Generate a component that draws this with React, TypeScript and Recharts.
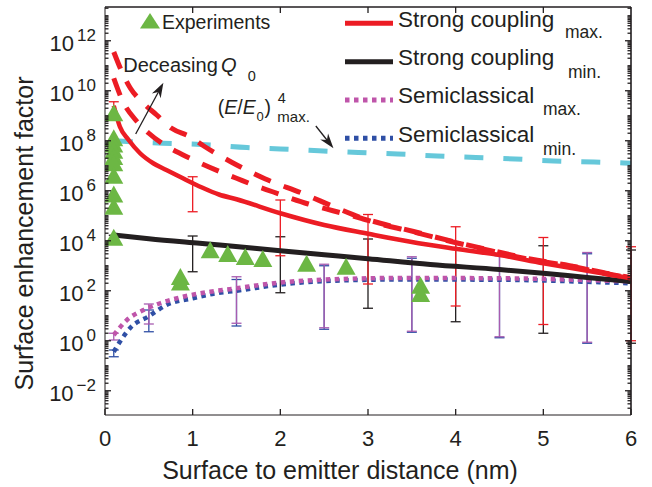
import { ComposedChart, Line, Scatter, XAxis, YAxis, ErrorBar, ReferenceLine, Legend } from 'recharts';

// values are log10 of the enhancement factor
const strongMaxX = [0.1, 0.17, 0.27, 0.4, 0.55, 0.7, 0.9, 1.1, 1.3, 1.5, 2, 2.5, 3, 3.5, 4, 4.5, 5, 5.5, 6];
const strongMaxLog = [9.4, 8.56, 8.03, 7.5, 7.1, 6.83, 6.48, 6.14, 5.85, 5.66, 5.1, 4.63, 4.28, 3.95, 3.68, 3.43, 3.1, 2.8, 2.5];

const dashHighX = [0.1, 0.2, 0.29, 0.42, 0.59, 0.76, 0.97, 1.14, 1.45, 1.83, 2.25, 2.65, 2.9, 3.14, 3.52, 3.97, 4.4, 4.85, 5.3, 5.8, 6];
const dashHighLog = [11.55, 10.7, 10.1, 9.56, 9.03, 8.5, 8.16, 7.76, 7.13, 6.47, 5.9, 5.3, 4.95, 4.7, 4.37, 3.97, 3.62, 3.27, 3.0, 2.65, 2.53];

const dashLowX = [0.1, 0.2, 0.35, 0.5, 0.68, 0.88, 1.09, 1.3, 1.5, 1.7, 1.92, 2.12, 2.32, 2.6, 2.9, 3.14, 3.52, 3.97, 4.4, 4.85, 5.3, 5.8, 6];
const dashLowLog = [10.5, 9.6, 8.83, 8.3, 7.83, 7.45, 7.1, 6.78, 6.5, 6.22, 5.95, 5.7, 5.47, 5.2, 4.92, 4.67, 4.35, 3.95, 3.6, 3.25, 2.99, 2.63, 2.52];

const fieldX = [0.1, 0.3, 0.66, 1.1, 1.62, 2.0, 2.44, 2.89, 3.34, 3.79, 4.23, 4.68, 5.12, 5.58, 6];
const fieldLog = [8.0, 7.96, 7.9, 7.85, 7.73, 7.67, 7.6, 7.53, 7.47, 7.39, 7.33, 7.27, 7.19, 7.15, 7.1];

const strongMinX = [0.1, 0.5, 1.08, 1.31, 2, 2.5, 3, 3.71, 4.5, 5, 5.5, 6];
const strongMinLog = [4.23, 4.08, 3.9, 3.83, 3.6, 3.44, 3.28, 3.05, 2.85, 2.7, 2.53, 2.37];

const semiMaxX = [0.1, 0.25, 0.44, 0.63, 0.89, 1.2, 1.46, 2, 2.6, 3.37, 4.5, 5.65, 6];
const semiMaxLog = [0.23, 0.83, 1.23, 1.5, 1.76, 1.96, 2.08, 2.33, 2.46, 2.51, 2.5, 2.41, 2.37];

const semiMinX = [0.1, 0.17, 0.3, 0.49, 0.7, 1.0, 1.27, 1.5, 2, 2.6, 3.37, 4.5, 5.65, 6];
const semiMinLog = [-0.44, -0.04, 0.56, 0.96, 1.43, 1.7, 1.9, 2.0, 2.25, 2.4, 2.45, 2.44, 2.34, 2.3];

const expX = [0.1, 0.1, 0.1, 0.1, 0.1, 0.1, 0.1, 0.1, 0.1, 0.1, 0.86, 0.86, 1.2, 1.4, 1.6, 1.8, 2.3, 2.75, 3.6, 3.6];
const expLog = [9.1, 8.1, 7.85, 7.6, 7.35, 7.1, 6.6, 5.85, 5.36, 4.12, 2.55, 2.33, 3.62, 3.47, 3.35, 3.27, 3.08, 2.96, 2.2, 1.87];

// error bars: x, log of bottom, log of top
const redBarX = [0.1, 1, 2, 3, 4, 5, 6];
const redBarLo = [8.95, 5.16, 3.4, 2.27, 1.39, 0.65, 0.0];
const redBarHi = [9.56, 6.56, 5.63, 5.05, 4.56, 4.13, 3.76];

const blackBarX = [0.1, 1, 2, 3, 4, 5, 6];
const blackBarLo = [4.03, 2.76, 1.92, 1.3, 0.76, 0.3, -0.1];
const blackBarHi = [4.22, 4.19, 4.16, 4.07, 3.95, 3.8, 3.63];

const pinkBarX = [0.1, 0.5, 1.5, 2.5, 3.5, 4.5, 5.5];
const pinkBarLo = [0.03, 0.67, 0.7, 0.52, 0.38, 0.16, -0.06];
const pinkBarHi = [0.3, 1.47, 2.56, 3.06, 3.36, 3.45, 3.53];

const blueBarX = [0.1, 0.5, 1.5, 2.5, 3.5, 4.5, 5.5];
const blueBarLo = [-0.64, 0.36, 0.59, 0.46, 0.34, 0.12, -0.1];
const blueBarHi = [-0.37, 1.23, 2.45, 3.0, 3.3, 3.4, 3.48];

const xTicks = [0, 1, 2, 3, 4, 5, 6];
const yTicks = [1e-2, 1, 1e2, 1e4, 1e6, 1e8, 1e10, 1e12];
const Y_DOMAIN = [10 ** -2.97, 10 ** 13.35];

const yAllTicks: number[] = [...yTicks];
for (let k = -3; k <= 13; k++) {
  for (let m = 1; m <= 9; m++) {
    if (m === 1 && k % 2 === 0) continue;
    const v = m * 10 ** k;
    if (v > Y_DOMAIN[0] && v < Y_DOMAIN[1]) yAllTicks.push(v);
  }
}
yAllTicks.sort((a, b) => a - b);

const legendNames = ['Strong coupling', 'Strong coupling', 'Semiclassical', 'Semiclassical'];
const legendSubs = ['max.', 'min.', 'max.', 'min.'];

const FONT = '"Liberation Sans", Arial, Helvetica, sans-serif';
const INK = '#231f20';
const RED = '#ec1c24';
const GREEN = '#6cb744';
const CYAN = '#66c8da';
const PINK = '#bf55aa';
const BLUE = '#2f4fa5';

const toPoints = (xs: number[], logs: number[]) => xs.map((x, i) => ({ x, y: 10 ** logs[i] }));
const toBars = (xs: number[], lo: number[], hi: number[]) =>
  xs.map((x, i) => {
    const top = 10 ** hi[i];
    const bottom = 10 ** lo[i];
    return { x, y: top, err: [top - bottom, 0] };
  });

const isMajor = (v: number) => {
  const e = Math.log10(v);
  return Math.abs(e - Math.round(e)) < 1e-6 && Math.round(e) % 2 === 0;
};

// tick marks point into the plot, MATLAB style
const BottomTick = ({ x, y, payload }: any) => (
  <g>
    <path d={`M${x},${y}V${y - 6}`} stroke={INK} strokeWidth={1.3} fill="none" />
    <text x={x} y={y + 31} textAnchor="middle" fontSize={22} fill={INK} fontFamily={FONT}>
      {payload.value}
    </text>
  </g>
);

const TopTick = ({ x, y }: any) => <path d={`M${x},${y}V${y + 6}`} stroke={INK} strokeWidth={1.3} fill="none" />;

const LeftTick = ({ x, y, payload }: any) => {
  const major = isMajor(payload.value);
  const exp = Math.round(Math.log10(payload.value));
  return (
    <g>
      <path d={`M${x},${y}H${x + (major ? 6 : 3.5)}`} stroke={INK} strokeWidth={1.3} fill="none" />
      {major && (
        <text x={x - 9} y={y + 10} textAnchor="end" fontSize={22} fill={INK} fontFamily={FONT}>
          10
          <tspan dx={3} dy={-10} fontSize={17}>
            {exp < 0 ? '\u2212' + Math.abs(exp) : exp}
          </tspan>
        </text>
      )}
    </g>
  );
};

const RightTick = ({ x, y, payload }: any) => (
  <path d={`M${x},${y}H${x - (isMajor(payload.value) ? 6 : 3.5)}`} stroke={INK} strokeWidth={1.3} fill="none" />
);

const XTitle = () => (
  <text x={340} y={479} textAnchor="middle" fontSize={25} fill={INK} fontFamily={FONT}>
    Surface to emitter distance (nm)
  </text>
);

const YTitle = () => (
  <text transform="translate(33,233.5) rotate(-90)" textAnchor="middle" fontSize={25} fill={INK} fontFamily={FONT}>
    Surface enhancement factor
  </text>
);

const Triangle = ({ cx, cy }: any) => (
  <polygon points={`${cx},${cy - 9} ${cx - 9.5},${cy + 8} ${cx + 9.5},${cy + 8}`} fill={GREEN} />
);

const Hidden = () => <g />;

const Arrow = ({ x1, y1, x2, y2 }: any) => {
  const a = Math.atan2(y2 - y1, x2 - x1);
  const len = 15;
  const half = 5;
  const bx = x2 - len * Math.cos(a);
  const by = y2 - len * Math.sin(a);
  const nx = x2 - len * 0.7 * Math.cos(a);
  const ny = y2 - len * 0.7 * Math.sin(a);
  const px = -Math.sin(a) * half;
  const py = Math.cos(a) * half;
  return (
    <g>
      <line x1={x1} y1={y1} x2={nx} y2={ny} stroke={INK} strokeWidth={1.3} />
      <polygon points={`${x2},${y2} ${bx + px},${by + py} ${nx},${ny} ${bx - px},${by - py}`} fill={INK} />
    </g>
  );
};

const Edge = ({ x1, y1, x2, y2 }: any) => (
  <line x1={x1} y1={y1} x2={x2} y2={y2} stroke={INK} strokeWidth={1.2} />
);

const legendLineY = [23.3, 61.7, 100, 138.3];
const legendTextY = [26.7, 65, 103.3, 141.7];
const legendSubX = [565, 568, 543, 543];
const legendSubY = [38.3, 78.3, 115, 155];
const legendStroke = [RED, INK, PINK, BLUE];
const legendDash = [undefined, undefined, '4.5 4.5', '4.5 4.5'];

const LegendBox = () => (
  <svg width={652} height={170} style={{ display: 'block' }} fontFamily={FONT} fill={INK}>
    <polygon points="140,28.5 150,13 160,28.5" fill={GREEN} />
    <text x={162} y={29} fontSize={19.5}>Experiments</text>
    {legendNames.map((name, i) => (
      <g key={i}>
        <line x1={345} x2={393} y1={legendLineY[i]} y2={legendLineY[i]} stroke={legendStroke[i]} strokeWidth={5} strokeDasharray={legendDash[i]} />
        <text x={398} y={legendTextY[i]} fontSize={22.5}>{name}</text>
        <text x={legendSubX[i]} y={legendSubY[i]} fontSize={17.5}>{legendSubs[i]}</text>
      </g>
    ))}
    <text x={123.3} y={71.7} fontSize={20}>Deceasing</text>
    <text x={221} y={71.7} fontSize={20} fontStyle="italic">Q</text>
    <text x={247.7} y={80.7} fontSize={14.5}>0</text>
    <text x={217.7} y={114} fontSize={19.5}>
      (<tspan fontStyle="italic">E</tspan>/<tspan fontStyle="italic">E</tspan>
    </text>
    <text x={256.5} y={120.5} fontSize={13}>0</text>
    <text x={264.5} y={114} fontSize={19.5}>)</text>
    <text x={277.7} y={103.3} fontSize={14.5}>4</text>
    <text x={277.3} y={121.7} fontSize={15}>max.</text>
  </svg>
);

const qArrow = [{ x: 0.35, y: 10 ** 8.27 }, { x: 0.666, y: 10 ** 10.32 }];
const eArrow = [{ x: 2.405, y: 10 ** 8.59 }, { x: 2.606, y: 10 ** 7.7 }];
const rightEdge = [{ x: 6, y: Y_DOMAIN[0] }, { x: 6, y: Y_DOMAIN[1] }];
const topEdge = [{ x: 0, y: Y_DOMAIN[1] }, { x: 6, y: Y_DOMAIN[1] }];

const lineProps = { xAxisId: 'x', yAxisId: 'y', dataKey: 'y', dot: false, activeDot: false, isAnimationActive: false, type: 'monotone' as const };

export default function App() {
  return (
    <div style={{ position: 'absolute', left: 0, top: 0, width: 652, height: 487, background: '#fff' }}>
      <ComposedChart width={652} height={487} margin={{ top: 6, right: 20, bottom: 0, left: 0 }}>
        <XAxis xAxisId="x" type="number" dataKey="x" domain={[0, 6]} allowDataOverflow ticks={xTicks} interval={0}
          height={72} tickSize={0} tickMargin={0} tickLine={false} tick={<BottomTick />} stroke={INK} label={<XTitle />} />
        <XAxis xAxisId="top" orientation="top" type="number" dataKey="x" domain={[0, 6]} allowDataOverflow
          ticks={xTicks.slice(1, -1)} interval={0} height={1} tickSize={0} tickMargin={0} tickLine={false} tick={<TopTick />} stroke={INK} />
        <YAxis yAxisId="y" type="number" scale="log" dataKey="y" domain={Y_DOMAIN} allowDataOverflow ticks={yAllTicks}
          interval={0} width={105} tickSize={0} tickMargin={0} tickLine={false} tick={<LeftTick />} stroke={INK} label={<YTitle />} />
        <YAxis yAxisId="yRight" orientation="right" type="number" scale="log" dataKey="y" domain={Y_DOMAIN}
          allowDataOverflow ticks={yAllTicks} interval={0} width={1} tickSize={0} tickMargin={0} tickLine={false} tick={<RightTick />} stroke={INK} />

        <Scatter xAxisId="x" yAxisId="y" data={toPoints(expX, expLog)} dataKey="y" shape={Triangle} isAnimationActive={false} />

        <Scatter xAxisId="x" yAxisId="y" data={toBars(blueBarX, blueBarLo, blueBarHi)} dataKey="y" shape={Hidden} isAnimationActive={false}>
          <ErrorBar dataKey="err" direction="y" width={5} stroke={BLUE} strokeWidth={1.3} isAnimationActive={false} />
        </Scatter>
        <Scatter xAxisId="x" yAxisId="y" data={toBars(pinkBarX, pinkBarLo, pinkBarHi)} dataKey="y" shape={Hidden} isAnimationActive={false}>
          <ErrorBar dataKey="err" direction="y" width={5} stroke="#a85cb0" strokeWidth={1.3} isAnimationActive={false} />
        </Scatter>
        <Scatter xAxisId="x" yAxisId="y" data={toBars(blackBarX, blackBarLo, blackBarHi)} dataKey="y" shape={Hidden} isAnimationActive={false}>
          <ErrorBar dataKey="err" direction="y" width={5} stroke={INK} strokeWidth={1.3} isAnimationActive={false} />
        </Scatter>
        <Scatter xAxisId="x" yAxisId="y" data={toBars(redBarX, redBarLo, redBarHi)} dataKey="y" shape={Hidden} isAnimationActive={false}>
          <ErrorBar dataKey="err" direction="y" width={5} stroke={RED} strokeWidth={1.3} isAnimationActive={false} />
        </Scatter>

        <Line {...lineProps} data={toPoints(semiMinX, semiMinLog)} stroke={BLUE} strokeWidth={4.5} strokeDasharray="4.5 4.5" />
        <Line {...lineProps} data={toPoints(semiMaxX, semiMaxLog)} stroke={PINK} strokeWidth={4.5} strokeDasharray="4.5 4.5" />
        <Line {...lineProps} data={toPoints(fieldX, fieldLog)} stroke={CYAN} strokeWidth={5} strokeDasharray="19 20" />
        <Line {...lineProps} data={toPoints(strongMinX, strongMinLog)} stroke={INK} strokeWidth={5} />
        <Line {...lineProps} data={toPoints(dashHighX, dashHighLog)} stroke={RED} strokeWidth={5} strokeDasharray="18 14" />
        <Line {...lineProps} data={toPoints(dashLowX, dashLowLog)} stroke={RED} strokeWidth={5} strokeDasharray="18 14" />
        <Line {...lineProps} data={toPoints(strongMaxX, strongMaxLog)} stroke={RED} strokeWidth={4.5} />

        <ReferenceLine xAxisId="x" yAxisId="y" segment={qArrow} shape={Arrow} ifOverflow="visible" />
        <ReferenceLine xAxisId="x" yAxisId="y" segment={eArrow} shape={Arrow} ifOverflow="visible" />
        <ReferenceLine xAxisId="x" yAxisId="y" segment={rightEdge} shape={Edge} ifOverflow="visible" />
        <ReferenceLine xAxisId="x" yAxisId="y" segment={topEdge} shape={Edge} ifOverflow="visible" />

        <Legend content={<LegendBox />} layout="horizontal" verticalAlign="middle" align="center"
          wrapperStyle={{ left: 0, top: 0, width: 652, height: 170, pointerEvents: 'none' }} />
      </ComposedChart>
    </div>
  );
}
